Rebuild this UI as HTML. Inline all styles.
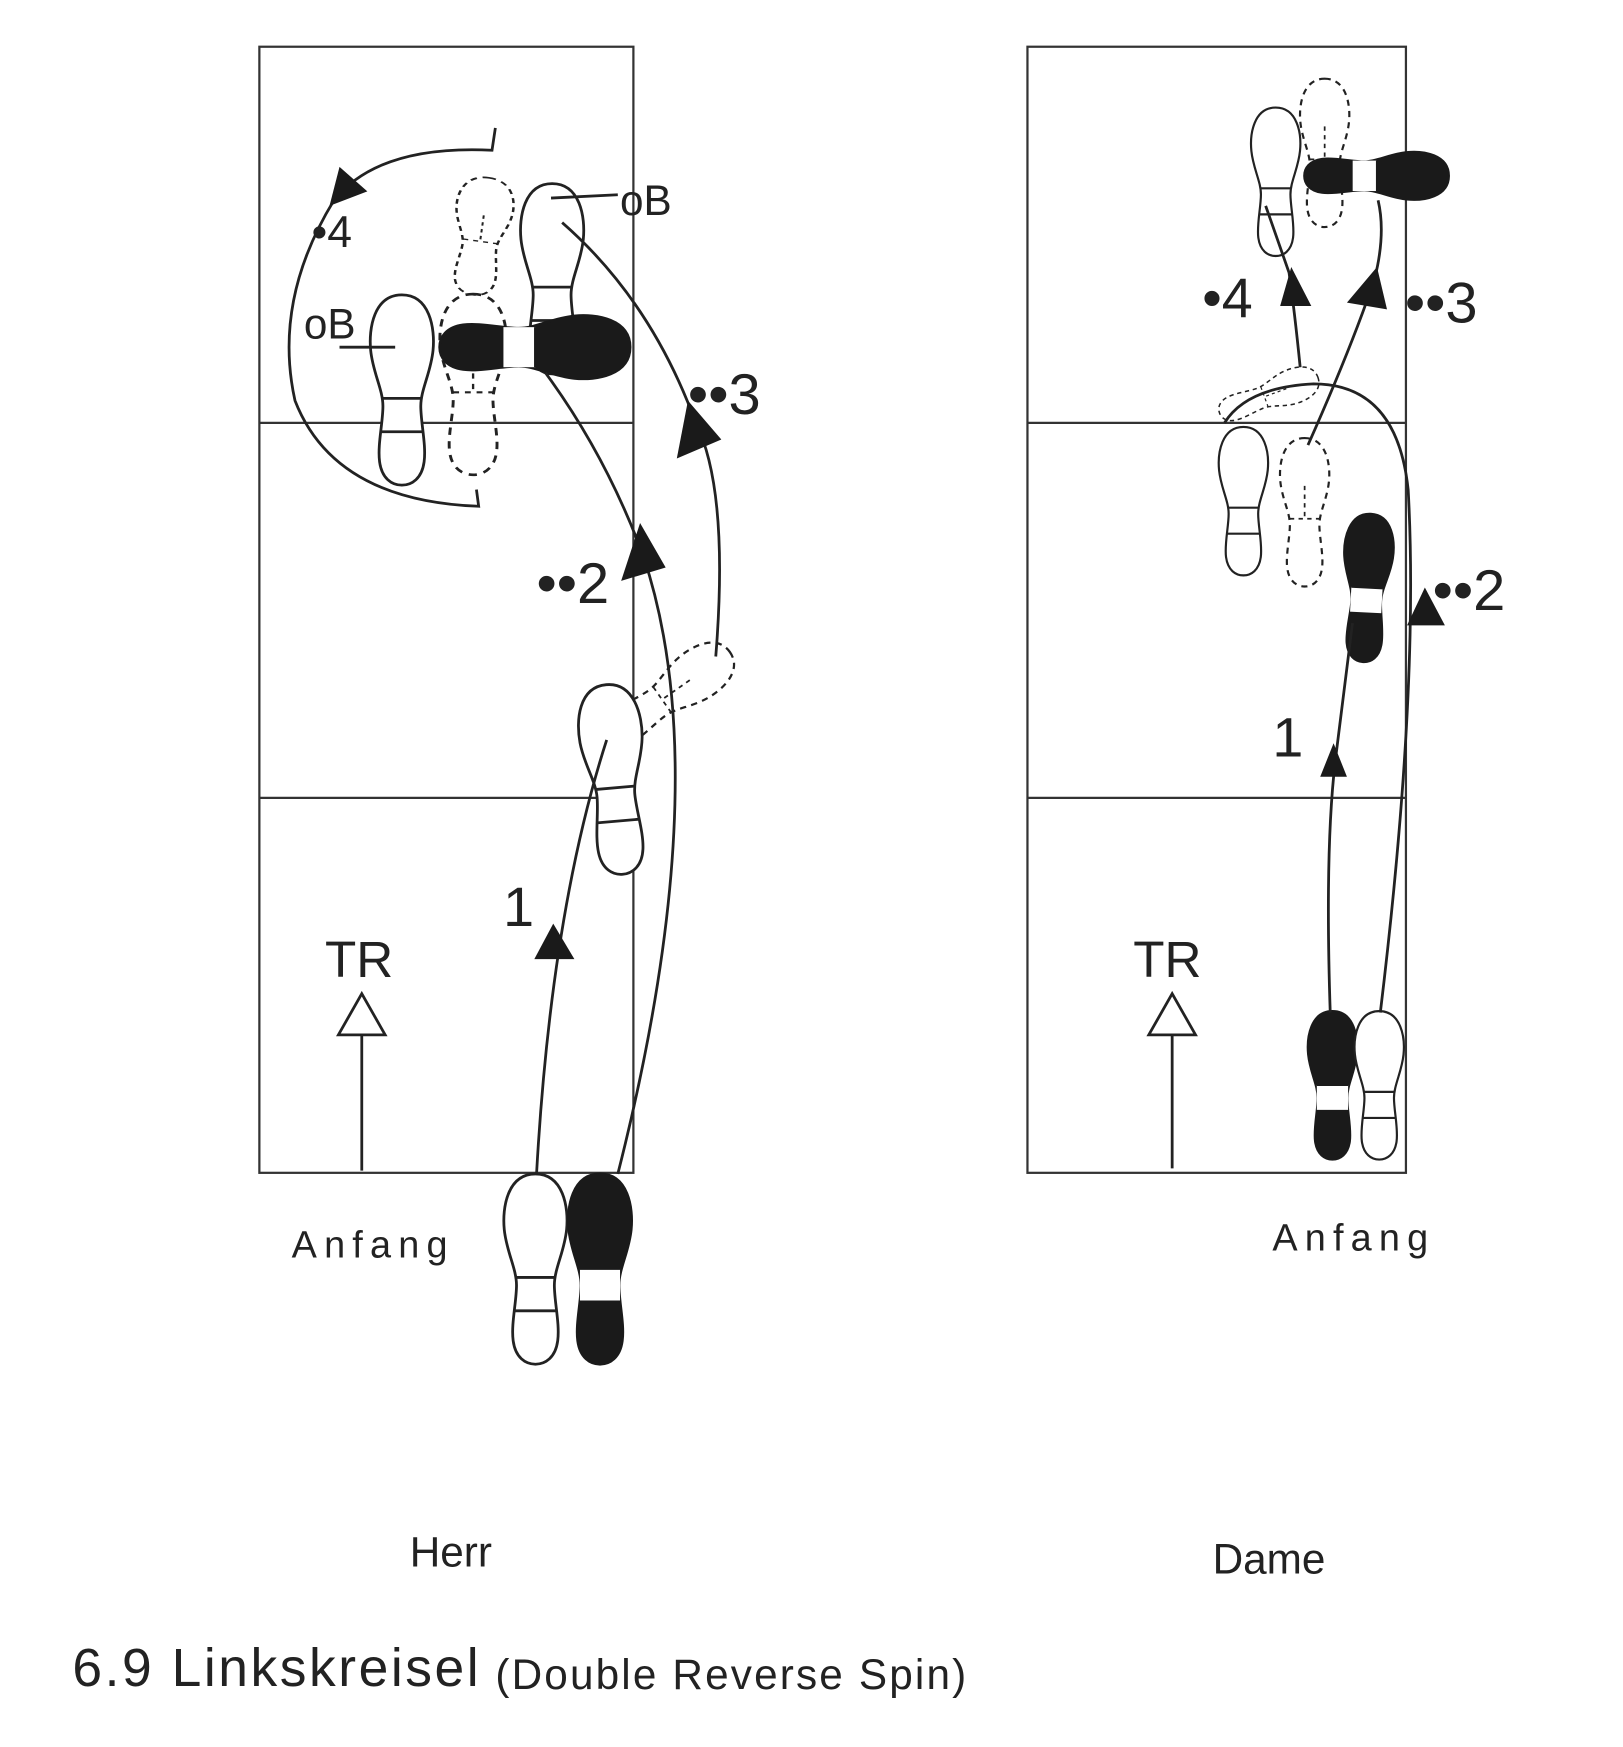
<!DOCTYPE html>
<html><head><meta charset="utf-8"><style>
html,body{margin:0;padding:0;background:#fff;}
svg{display:block;}
text{font-family:"Liberation Sans",sans-serif;fill:#222;}
</style></head><body>
<svg width="1623" height="1747" viewBox="0 0 1458 1570" preserveAspectRatio="none" xmlns="http://www.w3.org/2000/svg">
<defs>
<path id="sh" d="M0,-85 C25,-85 30,-55 28,-35 C26,-15 17,0 17,15 C17,30 22,50 20,65 C18,80 9,86 0,86 C-9,86 -18,80 -20,65 C-22,50 -17,30 -17,15 C-17,0 -26,-15 -28,-35 C-30,-55 -25,-85 0,-85Z"/>
<g id="ws"><use href="#sh" fill="#fff" stroke="#222" stroke-width="2.5"/><line x1="-17" y1="8" x2="17" y2="8" stroke="#222" stroke-width="2.5"/><line x1="-19" y1="38" x2="19" y2="38" stroke="#222" stroke-width="2.5"/></g>
<g id="bs"><use href="#sh" fill="#1a1a1a" stroke="#1a1a1a" stroke-width="2.5"/><rect x="-18" y="0" width="36" height="30" fill="#fff"/><line x1="-18" y1="0" x2="18" y2="0" stroke="#1a1a1a" stroke-width="2.5"/><line x1="-19" y1="30" x2="19" y2="30" stroke="#1a1a1a" stroke-width="2.5"/></g>
<g id="ds"><use href="#sh" fill="none" stroke="#222" stroke-width="2.5" stroke-dasharray="7,6"/><line x1="-17" y1="8" x2="17" y2="8" stroke="#222" stroke-width="2" stroke-dasharray="5,5"/><line x1="0" y1="-30" x2="0" y2="10" stroke="#222" stroke-width="2" stroke-dasharray="5,5"/></g>
</defs>
<g fill="none" stroke="#333" stroke-width="2">
<rect x="233" y="42" width="336" height="1012"/>
<line x1="233" y1="380" x2="569" y2="380"/><line x1="233" y1="717" x2="569" y2="717"/>
<rect x="923" y="42" width="340" height="1012"/>
<line x1="923" y1="380" x2="1263" y2="380"/><line x1="923" y1="717" x2="1263" y2="717"/>
</g>
<!-- Herr shoes -->
<use href="#ws" transform="translate(481,1140)"/>
<use href="#bs" transform="translate(539,1140)"/>
<use href="#ds" transform="translate(600,625) rotate(55) scale(0.8)"/>
<use href="#ws" transform="translate(552,700) rotate(-5)"/>
<use href="#ds" transform="translate(432,212) rotate(8) scale(0.9,0.62)"/>
<use href="#ds" transform="translate(425,345) scale(1.05,0.95)"/>
<use href="#ws" transform="translate(496,250)"/>
<use href="#bs" transform="translate(481,312) rotate(90)"/>
<use href="#ws" transform="translate(361,350)"/>
<!-- Herr paths -->
<g fill="none" stroke="#222" stroke-width="2.5">
<path d="M482,1055 Q495,820 545,665"/>
<path d="M555,1055 Q645,700 578,500 Q545,410 490,335"/>
<path d="M643,590 Q655,440 625,380 Q585,270 505,200"/>
<path d="M445,115 L442,135 Q340,130 300,180 Q245,270 265,360 Q300,450 430,455 L428,440"/>
<line x1="325" y1="900" x2="325" y2="1052"/>
<line x1="495" y1="178" x2="555" y2="175"/>
<line x1="305" y1="312" x2="355" y2="312"/>
</g>
<polygon points="497,830 480,862 516,862" fill="#1a1a1a"/>
<polygon points="575,470 558,522 598,510" fill="#1a1a1a"/>
<polygon points="618,360 608,412 648,395" fill="#1a1a1a"/>
<polygon points="296,185 305,150 330,172" fill="#1a1a1a"/>
<polygon points="325,893 304,930 346,930" fill="#fff" stroke="#222" stroke-width="2.5"/>
<text x="452" y="832" font-size="50">1</text>
<text x="482" y="542" font-size="52">••2</text>
<text x="618" y="372" font-size="52">••3</text>
<text x="280" y="222" font-size="40">•4</text>
<text x="557" y="193" font-size="38">oB</text>
<text x="273" y="304" font-size="38">oB</text>
<text x="292" y="878" font-size="46">TR</text>
<text x="262" y="1130" font-size="34" textLength="140" lengthAdjust="spacing">Anfang</text>
<!-- Dame shoes -->
<use href="#bs" transform="translate(1197,975) scale(0.78)"/>
<use href="#ws" transform="translate(1239,975) scale(0.78)"/>
<use href="#ds" transform="translate(1172,460) scale(0.78)"/>
<use href="#ds" transform="translate(1140,355) rotate(70) scale(0.55)"/>
<use href="#ws" transform="translate(1117,450) scale(0.78)"/>
<use href="#bs" transform="translate(1228,528) rotate(3) scale(0.78)"/>
<use href="#ds" transform="translate(1190,137) scale(0.78)"/>
<use href="#ws" transform="translate(1146,163) scale(0.78)"/>
<use href="#bs" transform="translate(1237,158) rotate(90) scale(0.76)"/>
<g fill="none" stroke="#222" stroke-width="2.5">
<path d="M1195,910 Q1190,760 1200,680 L1215,560"/>
<path d="M1240,910 Q1275,620 1265,440 Q1255,345 1180,345 Q1120,348 1100,380"/>
<path d="M1175,400 Q1215,310 1235,250 Q1245,210 1238,180"/>
<path d="M1168,330 Q1163,280 1158,245 L1137,185"/>
<line x1="1053" y1="900" x2="1053" y2="1050"/>
</g>
<polygon points="1198,668 1186,698 1210,698" fill="#1a1a1a"/>
<polygon points="1280,528 1264,562 1298,562" fill="#1a1a1a"/>
<polygon points="1237,240 1210,272 1246,278" fill="#1a1a1a"/>
<polygon points="1160,240 1150,275 1178,275" fill="#1a1a1a"/>
<polygon points="1053,893 1032,930 1074,930" fill="#fff" stroke="#222" stroke-width="2.5"/>
<text x="1143" y="680" font-size="50">1</text>
<text x="1287" y="548" font-size="52">••2</text>
<text x="1262" y="290" font-size="52">••3</text>
<text x="1080" y="285" font-size="50">•4</text>
<text x="1018" y="878" font-size="46">TR</text>
<text x="1143" y="1124" font-size="34" textLength="140" lengthAdjust="spacing">Anfang</text>
<text x="405" y="1408" font-size="38" text-anchor="middle">Herr</text>
<text x="1140" y="1414" font-size="38" text-anchor="middle">Dame</text>
<text x="65" y="1515" font-size="48" textLength="365" lengthAdjust="spacing">6.9  Linkskreisel</text>
<text x="445" y="1518" font-size="38" textLength="423" lengthAdjust="spacing">(Double Reverse Spin)</text>
</svg>
</body></html>
